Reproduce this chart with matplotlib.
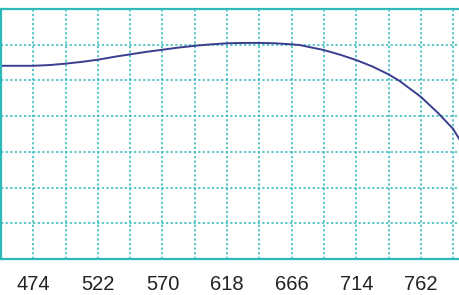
import matplotlib.pyplot as plt
import numpy as np

plt.rcParams["font.family"] = ["Liberation Sans", "DejaVu Sans"]

# wavelength (nm) and relative response
wavelength = [449, 474, 486, 498, 510, 522, 534, 546, 558, 568, 582, 594, 606, 618, 630,
              642, 654, 666, 672, 690, 702, 714, 726, 738, 746, 762, 775, 786, 791]
response = [5.41, 5.41, 5.43, 5.47, 5.52, 5.58, 5.66, 5.73, 5.80, 5.85, 5.92, 5.97, 6.01, 6.04, 6.05,
            6.05, 6.04, 6.01, 5.99, 5.85, 5.72, 5.57, 5.39, 5.17, 4.99, 4.54, 4.08, 3.64, 3.33]

major_ticks = [474, 522, 570, 618, 666, 714, 762]
minor_ticks = [498, 546, 594, 642, 690, 738, 786]

teal = "#2fb8b8"
line_color = "#3b3d8f"

fig = plt.figure(figsize=(4.6, 2.95), dpi=100)
ax = fig.add_axes([1 / 460, 36 / 295, 471 / 460, 250 / 295])

ax.plot(wavelength, response, color=line_color, linewidth=1.4,
        solid_capstyle="round", solid_joinstyle="round")

ax.set_xlim(450, 800)
ax.set_ylim(0, 7)
ax.set_xticks(major_ticks)
ax.set_xticks(minor_ticks, minor=True)
ax.set_xticklabels([str(t) for t in major_ticks], fontsize=14.5, color="#222222")
ax.set_yticks(range(1, 7))
ax.set_yticklabels([])
ax.tick_params(which="both", length=0, pad=11.5)

ax.grid(True, which="both", color=teal, linestyle=(0, (1.5, 1.5)), linewidth=1.1)
for side in ["left", "bottom", "top", "right"]:
    ax.spines[side].set_color(teal)
    ax.spines[side].set_linewidth(1.6)

fig.savefig("out.png", dpi=100)
